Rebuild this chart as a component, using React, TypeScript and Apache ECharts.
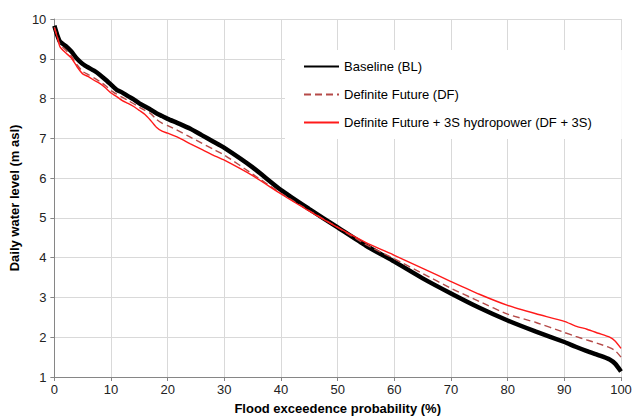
import React, { useEffect, useRef } from "react";
import * as echarts from "echarts";

const probability = [0, 0.5, 1, 2, 3, 4, 5, 6, 7, 8, 9, 10, 11, 12, 13, 14, 15, 16, 17, 18, 19, 20, 22, 24, 26, 28, 30, 35, 40, 45, 50, 55, 60, 65, 70, 75, 80, 85, 90, 92, 94, 96, 98, 99, 100];

const baseline = [9.83, 9.6, 9.43, 9.32, 9.18, 9.0, 8.87, 8.78, 8.7, 8.6, 8.48, 8.35, 8.22, 8.15, 8.06, 7.98, 7.88, 7.8, 7.72, 7.63, 7.56, 7.49, 7.37, 7.24, 7.08, 6.92, 6.76, 6.27, 5.7, 5.22, 4.76, 4.3, 3.9, 3.48, 3.1, 2.74, 2.42, 2.14, 1.88, 1.76, 1.65, 1.55, 1.44, 1.33, 1.14];

const definiteFuture = [9.8, 9.57, 9.36, 9.22, 9.07, 8.85, 8.68, 8.6, 8.52, 8.43, 8.33, 8.2, 8.11, 8.03, 7.95, 7.87, 7.78, 7.7, 7.62, 7.48, 7.38, 7.32, 7.18, 7.03, 6.88, 6.73, 6.58, 6.1, 5.62, 5.18, 4.76, 4.33, 3.97, 3.6, 3.23, 2.9, 2.58, 2.37, 2.12, 2.02, 1.93, 1.84, 1.74, 1.66, 1.5];

const dfHydro = [9.77, 9.55, 9.3, 9.15, 9.02, 8.8, 8.62, 8.55, 8.46, 8.38, 8.27, 8.14, 8.05, 7.95, 7.88, 7.8, 7.7, 7.6, 7.45, 7.28, 7.18, 7.13, 7.01, 6.86, 6.72, 6.58, 6.45, 6.06, 5.6, 5.17, 4.76, 4.38, 4.06, 3.73, 3.4, 3.08, 2.8, 2.59, 2.4, 2.28, 2.2, 2.1, 2.0, 1.9, 1.72];

const seriesNames = ["Baseline (BL)", "Definite Future (DF)", "Definite Future + 3S hydropower (DF + 3S)"];
const xTitle = "Flood exceedence probability (%)";
const yTitle = "Daily water level (m asl)";

const pairs = (ys: number[]) => probability.map((x, i) => [x, ys[i]]);

export default function App() {
  const ref = useRef<HTMLDivElement>(null);
  useEffect(() => {
    if (!ref.current) return;
    const chart = echarts.init(ref.current, null, { renderer: "svg" });
    const font = "'Liberation Sans', Arial, sans-serif";
    chart.setOption({
      animation: false,
      textStyle: { fontFamily: font },
      grid: { left: 53, right: 14, top: 19, bottom: 41, containLabel: false },
      legend: {
        orient: "vertical",
        left: 285,
        top: 50,
        padding: [10, 30, 10, 18],
        backgroundColor: "#ffffff",
        itemWidth: 35,
        itemHeight: 14,
        itemGap: 15,
        data: seriesNames,
        itemStyle: { opacity: 0 },
        textStyle: { fontFamily: font, fontSize: 13, color: "#000" },
      },
      xAxis: {
        type: "value",
        min: 0,
        max: 100,
        interval: 10,
        name: xTitle,
        nameLocation: "middle",
        nameGap: 25,
        nameTextStyle: { fontFamily: font, fontSize: 13, fontWeight: "bold", color: "#000" },
        axisLine: { show: true, lineStyle: { color: "#868686", width: 1 } },
        axisTick: { show: true, length: 4, lineStyle: { color: "#868686" } },
        axisLabel: { fontFamily: font, fontSize: 13, color: "#222", margin: 6 },
        splitLine: { show: true, lineStyle: { color: "#d9d9d9", width: 1 } },
      },
      yAxis: {
        type: "value",
        min: 1,
        max: 10,
        interval: 1,
        name: yTitle,
        nameLocation: "middle",
        nameGap: 29,
        nameTextStyle: { fontFamily: font, fontSize: 13, fontWeight: "bold", color: "#000" },
        axisLine: { show: true, lineStyle: { color: "#868686", width: 1 } },
        axisTick: { show: true, length: 4, lineStyle: { color: "#868686" } },
        axisLabel: { fontFamily: font, fontSize: 13, color: "#222", margin: 8 },
        splitLine: { show: true, lineStyle: { color: "#d9d9d9", width: 1 } },
      },
      series: [
        {
          name: seriesNames[0],
          type: "line",
          data: pairs(baseline),
          showSymbol: false,
          symbol: "none",
          smooth: 0.2,
          lineStyle: { color: "#000000", width: 4.5 },
          itemStyle: { color: "#000000" },
        },
        {
          name: seriesNames[1],
          type: "line",
          data: pairs(definiteFuture),
          showSymbol: false,
          symbol: "none",
          smooth: 0.2,
          lineStyle: { color: "#b54a48", width: 1.4, type: [7, 4] },
          itemStyle: { color: "#b54a48" },
        },
        {
          name: seriesNames[2],
          type: "line",
          data: pairs(dfHydro),
          showSymbol: false,
          symbol: "none",
          smooth: 0.2,
          lineStyle: { color: "#ff1a1a", width: 1.4 },
          itemStyle: { color: "#ff1a1a" },
        },
      ],
    });
    return () => chart.dispose();
  }, []);
  return <div ref={ref} style={{ width: 635, height: 420, position: "absolute", left: 0, top: 0, background: "#fff" }} />;
}
